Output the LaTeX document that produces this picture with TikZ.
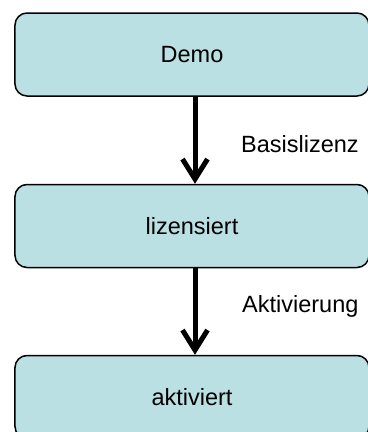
\documentclass[tikz,border=0pt]{standalone}
\usepackage{fontspec}
\setmainfont{Liberation Sans}
\usetikzlibrary{arrows.meta,positioning}
\definecolor{boxfill}{RGB}{186,224,227}

\begin{document}
\begin{tikzpicture}[x=1bp, y=-1bp,
    state/.style={rectangle, draw=black, line width=1.5bp, fill=boxfill, rounded corners=12bp,
                  minimum width=354bp, minimum height=83bp, inner sep=0pt,
                  font=\fontsize{23.5bp}{28bp}\selectfont},
    lbl/.style={anchor=base west, inner sep=0pt, font=\fontsize{23.5bp}{28bp}\selectfont},
    arr/.style={-{Straight Barb[length=20bp,width=25bp]}, line width=5bp, black}
]
    \clip (0,0) rectangle (368,432);
    \useasboundingbox (0,0) rectangle (368,432);

    \node[state] (demo) at (192,54.5) {Demo};
    \node[state] (lizenz) at (192,226) {lizensiert};
    \node[state] (aktiv) at (192,397) {aktiviert};

    \draw[arr] ([xshift=3bp]demo.south) -- ([xshift=3bp]lizenz.north);
    \draw[arr] ([xshift=3bp]lizenz.south) -- ([xshift=3bp]aktiv.north);

    \node[lbl] (basis) at (241,152) {Basislizenz};
    \node[lbl] (aktivierung) at (242,312) {Aktivierung};
\end{tikzpicture}
\end{document}
